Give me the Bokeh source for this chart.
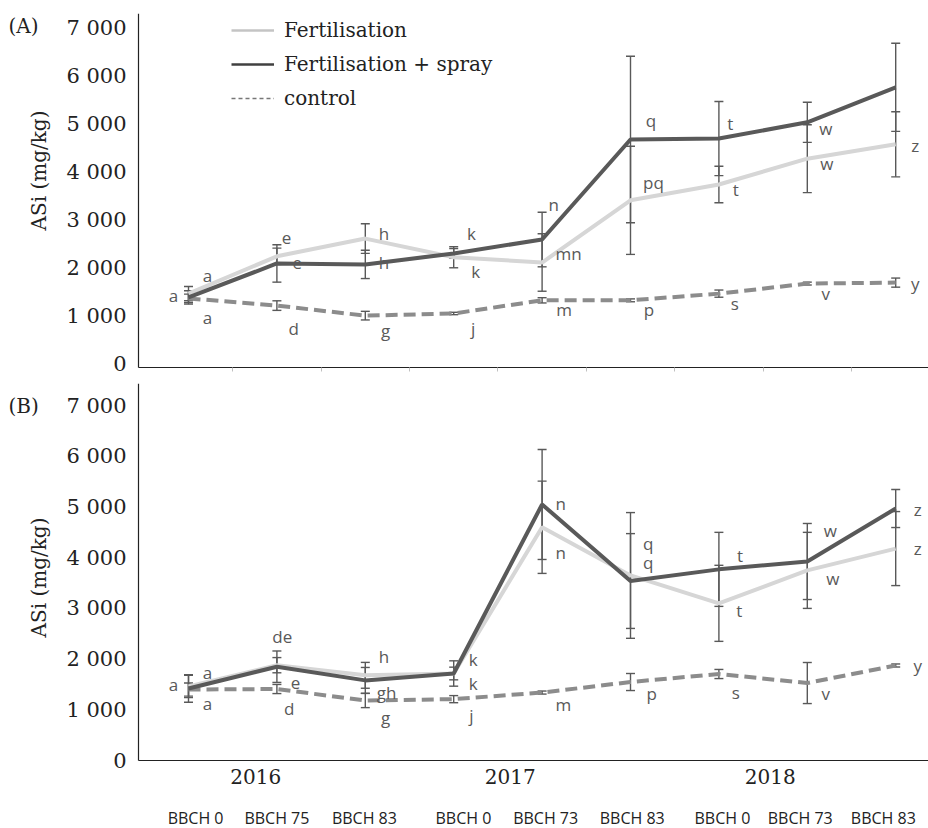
from math import pi
from bokeh.plotting import figure
from bokeh.models import (ColumnDataSource, Whisker, TeeHead, FixedTicker,
                          Legend, LegendItem, LinearAxis, Range1d)
from bokeh.layouts import column
from bokeh.embed import file_html
from bokeh.resources import INLINE
from bokeh.core.properties import value

# ---------------- data ----------------
x_idx = [0, 1, 2, 3, 4, 5, 6, 7, 8]
stages = ["BBCH 0", "BBCH 75", "BBCH 83", "BBCH 0", "BBCH 73", "BBCH 83",
          "BBCH 0", "BBCH 73", "BBCH 83"]
stage_pos = [0.08, 1.0, 1.99, 3.11, 4.04, 5.02, 6.04, 6.92, 7.86]
years = ["2016", "2017", "2018"]
year_pos = [0.76, 3.64, 6.58]
y_ticks = [0, 1000, 2000, 3000, 4000, 5000, 6000, 7000]
y_tick_labels = ["0", "1 000", "2 000", "3 000", "4 000", "5 000", "6 000", "7 000"]
series_names = ["Fertilisation", "Fertilisation + spray", "control"]
y_title = "ASi (mg/kg)"
panel_tags = ["(A)", "(B)"]

# Panel A
a_fert = [1460, 2240, 2610, 2220, 2110, 3410, 3740, 4280, 4580]
a_fert_err = [150, 170, 310, 220, 600, 1130, 380, 710, 680]
a_spray = [1380, 2090, 2070, 2300, 2590, 4680, 4700, 5040, 5770]
a_spray_err = [140, 390, 295, 100, 570, 1740, 775, 420, 920]
a_ctrl = [1360, 1210, 1000, 1045, 1320, 1320, 1460, 1670, 1690]
a_ctrl_err = [90, 100, 90, 25, 55, 30, 75, 30, 95]
a_letters = ["a", "a", "a", "e", "e", "d", "h", "h", "g", "k", "k", "j", "n", "mn", "m",
             "q", "pq", "p", "t", "t", "s", "w", "w", "v", "z", "y"]
a_letter_x = [-0.17, 0.215, 0.215, 1.11, 1.23, 1.19, 2.21, 2.21, 2.23, 3.20, 3.25, 3.22,
              4.13, 4.30, 4.25, 5.23, 5.26, 5.21, 6.13, 6.19, 6.18, 7.21, 7.22, 7.21, 8.22, 8.22]
a_letter_y = [1421, 1839, 961, 2612, 2110, 731, 2716, 2110, 690, 2716, 1922, 731, 3322, 2298,
              1128, 5077, 3782, 1128, 5015, 3636, 1254, 4910, 4179, 1463, 4555, 1672]

# Panel B
b_fert = [1460, 1880, 1680, 1716, 4600, 3650, 3100, 3750, 4180]
b_fert_err = [220, 150, 255, 250, 910, 1240, 750, 750, 730]
b_spray = [1420, 1850, 1580, 1716, 5050, 3540, 3770, 3925, 4970]
b_spray_err = [270, 310, 255, 125, 1085, 935, 730, 750, 375]
b_ctrl = [1400, 1410, 1183, 1210, 1340, 1548, 1706, 1528, 1874]
b_ctrl_err = [130, 90, 140, 70, 30, 168, 90, 405, 30]
b_letters = ["a", "a", "a", "de", "e", "d", "h", "gh", "g", "k", "k", "j", "n", "n", "m",
             "q", "q", "p", "t", "t", "s", "w", "w", "v", "z", "z", "y"]
b_letter_x = [-0.17, 0.215, 0.215, 1.06, 1.21, 1.14, 2.21, 2.24, 2.23, 3.22, 3.22, 3.20,
              4.21, 4.21, 4.24, 5.20, 5.20, 5.24, 6.24, 6.23, 6.19, 7.26, 7.29, 7.21,
              8.25, 8.25, 8.25]
b_letter_y = [1499, 1736, 1124, 2446, 1538, 1026, 2051, 1341, 848, 1992, 1519, 888, 5069,
              4103, 1105, 4280, 3905, 1321, 4043, 2959, 1341, 4536, 3590, 1321, 4951, 4181, 1874]

# ---------------- style ----------------
SERIF = "DejaVu Serif"
SANS = "Open Sans"
C_FERT = "#d6d6d6"
C_SPRAY = "#595959"
C_CTRL = "#8c8c8c"
C_ERR = "#595959"
C_TXT = "#222222"
C_LET = "#595959"
W = 928
PX0, PXW = 188.0, 88.4          # pixel position of first category and spacing
X_RANGE = ((0 - PX0) / PXW, (W - PX0) / PXW)
AXIS_X = (138 - PX0) / PXW


def px_to_x(px):
    return (px - PX0) / PXW


def base_fig(height, y_start, y_end, top, x_axis_at):
    p = figure(width=W, height=height, output_backend="svg", toolbar_location=None,
               x_range=Range1d(*X_RANGE), y_range=Range1d(y_start, y_end),
               min_border_left=0, min_border_right=0, min_border_top=top,
               min_border_bottom=0)
    p.outline_line_color = None
    p.xgrid.visible = False
    p.ygrid.visible = False
    p.background_fill_color = "white"
    p.border_fill_color = "white"
    ya = p.yaxis[0]
    ya.fixed_location = AXIS_X
    ya.bounds = (x_axis_at, y_end)
    ya.ticker = FixedTicker(ticks=y_ticks)
    ya.major_label_overrides = {t: l for t, l in zip(y_ticks, y_tick_labels)}
    ya.major_tick_line_color = None
    ya.major_tick_out = 0
    ya.major_tick_in = 0
    ya.minor_tick_line_color = None
    ya.axis_line_color = "#222222"
    ya.axis_line_width = 1.2
    ya.major_label_text_font = SERIF
    ya.major_label_text_font_size = "21px"
    ya.major_label_text_color = C_TXT
    ya.major_label_standoff = 12
    xa = p.xaxis[0]
    xa.fixed_location = x_axis_at
    xa.bounds = (AXIS_X, X_RANGE[1])
    xa.axis_line_color = "#222222"
    xa.axis_line_width = 1.2
    xa.major_tick_out = 0
    xa.major_tick_in = 0
    xa.minor_tick_in = 0
    return p


def draw_series(p, fert, fert_err, spray, spray_err, ctrl, ctrl_err, letters, lx, ly):
    for vals, errs in ((ctrl, ctrl_err), (fert, fert_err), (spray, spray_err)):
        src = ColumnDataSource(dict(x=x_idx, up=[v + e for v, e in zip(vals, errs)],
                                    lo=[v - e for v, e in zip(vals, errs)]))
        w = Whisker(source=src, base="x", upper="up", lower="lo",
                    line_color=C_ERR, line_width=1.4,
                    upper_head=TeeHead(size=9, line_color=C_ERR, line_width=1.4),
                    lower_head=TeeHead(size=9, line_color=C_ERR, line_width=1.4))
        w.level = "underlay"
        p.add_layout(w)
    p.line(x_idx, ctrl, line_color=C_CTRL, line_width=4, line_dash="12 6")
    p.line(x_idx, fert, line_color=C_FERT, line_width=4)
    p.line(x_idx, spray, line_color=C_SPRAY, line_width=4)
    lsrc = ColumnDataSource(dict(x=lx, y=ly, t=letters))
    p.text(x="x", y="y", text="t", source=lsrc, text_font=value(SANS),
           text_font_size="17px", text_color=C_LET, text_align="center",
           text_baseline="middle")


def side_texts(p, tag, tag_y, title_y):
    p.text(x=[px_to_x(8)], y=[tag_y], text=[tag], text_font=value(SERIF),
           text_font_size="20px", text_color=C_TXT, text_align="left",
           text_baseline="middle")
    p.text(x=[px_to_x(38)], y=[title_y], text=[y_title], angle=pi / 2,
           text_font=value(SERIF), text_font_size="20px", text_color=C_TXT,
           text_align="center", text_baseline="middle")


# ---------------- panel A (0..376 px) ----------------
KA = 0.04786                      # px per unit, panel A; value 0 at y=363
pA = base_fig(376, (363 - 376) / KA, (363 - 13) / KA, 13, (363 - 367) / KA)
draw_series(pA, a_fert, a_fert_err, a_spray, a_spray_err, a_ctrl, a_ctrl_err,
            a_letters, a_letter_x, a_letter_y)
xa = pA.xaxis[0]
xa.ticker = FixedTicker(ticks=[], minor_ticks=[i + 0.5 for i in x_idx[:-1]])
xa.minor_tick_line_color = "#c0c0c0"
xa.minor_tick_out = 4
xa.major_label_standoff = 0

nan = float("nan")
r1 = pA.line([nan], [nan], line_color="#c4c4c4", line_width=2.5)
r2 = pA.line([nan], [nan], line_color="#404040", line_width=2.5)
r3 = pA.line([nan], [nan], line_color="#777777", line_width=1.6, line_dash="4 3")
legend = Legend(items=[LegendItem(label=series_names[0], renderers=[r1]),
                       LegendItem(label=series_names[1], renderers=[r2]),
                       LegendItem(label=series_names[2], renderers=[r3])],
                location=(231, 266), label_text_font=SERIF, label_text_font_size="20px",
                label_text_color=C_TXT, glyph_width=43, glyph_height=24, label_height=24,
                spacing=10, padding=0, margin=0, border_line_color=None,
                background_fill_alpha=0, label_standoff=10)
pA.add_layout(legend)
side_texts(pA, panel_tags[0], (363 - 25) / KA, (363 - 170) / KA)

# ---------------- panel B (376..828 px) ----------------
KB = 0.0507                       # px per unit, panel B; value 0 at y=760
pB = base_fig(452, (760 - 828) / KB, (760 - 383) / KB, 7, 0)
draw_series(pB, b_fert, b_fert_err, b_spray, b_spray_err, b_ctrl, b_ctrl_err,
            b_letters, b_letter_x, b_letter_y)
xb = pB.xaxis[0]
xb.ticker = FixedTicker(ticks=year_pos)
xb.major_label_overrides = {t: l for t, l in zip(year_pos, years)}
xb.major_tick_line_color = None
xb.minor_tick_line_color = None
xb.minor_tick_out = 0
xb.major_label_text_font = SERIF
xb.major_label_text_font_size = "20px"
xb.major_label_text_color = C_TXT
xb.major_label_standoff = 8

stage_axis = LinearAxis(ticker=FixedTicker(ticks=stage_pos), fixed_location=0,
                        major_label_overrides={t: l for t, l in zip(stage_pos, stages)},
                        axis_line_color=None, major_tick_line_color=None,
                        minor_tick_line_color=None, major_tick_out=0, major_tick_in=0,
                        minor_tick_out=0, minor_tick_in=0, major_label_text_font=SANS,
                        major_label_text_font_size="16px", major_label_text_color=C_TXT,
                        major_label_standoff=46)
pB.add_layout(stage_axis, "below")
side_texts(pB, panel_tags[1], (760 - 405) / KB, (760 - 577) / KB)

layout = column(pA, pB, spacing=0)
open("out.html", "w").write(file_html(layout, INLINE))
